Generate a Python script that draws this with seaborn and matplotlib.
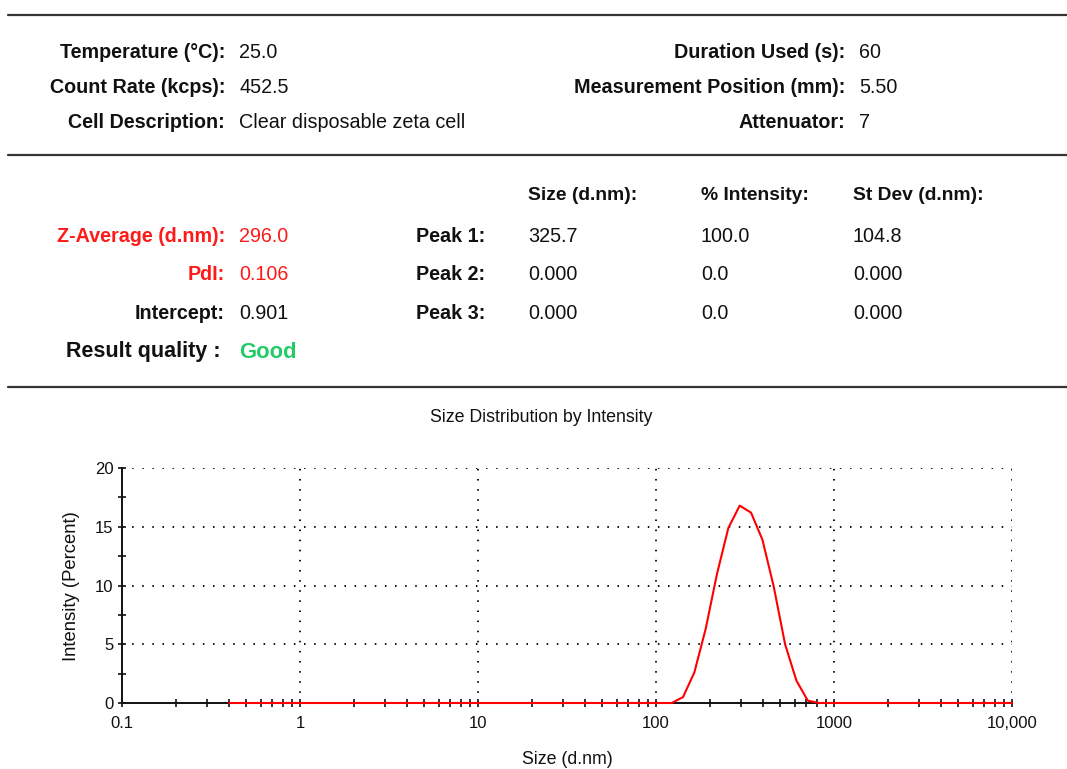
import matplotlib
matplotlib.use("Agg")
import matplotlib.pyplot as plt
import seaborn as sns
import numpy as np
from matplotlib.lines import Line2D
from matplotlib.ticker import FixedLocator, FixedFormatter

# ---- data ----
sizes = [0.4, 122.4, 141.8, 164.2, 190.1, 220.2, 255.0, 295.3, 342.0, 396.1,
         458.7, 531.2, 615.1, 712.4, 825.0, 10000.0]
intensity = [0.0, 0.0, 0.5, 2.6, 6.3, 11.0, 14.9, 16.8, 16.2, 13.9,
             9.9, 5.0, 1.9, 0.2, 0.0, 0.0]
x_ticks = [0.1, 1, 10, 100, 1000, 10000]
x_tick_labels = ["0.1", "1", "10", "100", "1000", "10,000"]
y_ticks = [0, 5, 10, 15, 20]

info_left = [("Temperature (°C):", "25.0"), ("Count Rate (kcps):", "452.5"),
             ("Cell Description:", "Clear disposable zeta cell")]
info_right = [("Duration Used (s):", "60"), ("Measurement Position (mm):", "5.50"),
              ("Attenuator:", "7")]
result_left = [("Z-Average (d.nm):", "296.0", "#ff1a1a"), ("PdI:", "0.106", "#ff1a1a"),
               ("Intercept:", "0.901", "#111111")]
peak_headers = ["Size (d.nm):", "% Intensity:", "St Dev (d.nm):"]
peak_names = ["Peak 1:", "Peak 2:", "Peak 3:"]
peak_size = ["325.7", "0.000", "0.000"]
peak_int = ["100.0", "0.0", "0.0"]
peak_sd = ["104.8", "0.000", "0.000"]

# ---- style ----
sns.set_style("white")
plt.rcParams['font.family'] = ['Liberation Sans', 'DejaVu Sans']

W, H = 1067, 769
fig = plt.figure(figsize=(W / 100, H / 100), dpi=100)

def P(x, y):
    return x / W, 1 - y / H

def txt(x, y, s, ha="left", size=14.2, weight="normal", color="#111111"):
    fig.text(*P(x, y), s, ha=ha, va="center", fontsize=size, fontweight=weight, color=color)

# horizontal rules
for yy in [15, 155, 387]:
    fig.add_artist(Line2D([8 / W, 1.0], [1 - yy / H] * 2, color="#333333", lw=1.6,
                          transform=fig.transFigure))

# header block
for i, (lab, val) in enumerate(info_left):
    y = 53 + i * 34.5
    txt(225, y, lab, ha="right", weight="bold")
    txt(239, y, val)
for i, (lab, val) in enumerate(info_right):
    y = 53 + i * 34.5
    txt(845, y, lab, ha="right", weight="bold")
    txt(859, y, val)

# results block
for x0, h in zip([528, 701, 853], peak_headers):
    txt(x0, 196, h, weight="bold", size=13.9)
for i, (lab, val, col) in enumerate(result_left):
    y = 236 + i * 38.5
    txt(225, y, lab, ha="right", weight="bold", color=col)
    txt(239, y, val, color=col)
    txt(485, y, peak_names[i], ha="right", weight="bold")
    txt(528, y, peak_size[i])
    txt(701, y, peak_int[i])
    txt(853, y, peak_sd[i])
txt(221, 351, "Result quality :", ha="right", size=15.5, weight="bold")
txt(239, 352, "Good", size=15.8, weight="bold", color="#22cc66")

# chart
ax = fig.add_axes([122 / W, 1 - 703 / H, (1012 - 122) / W, (703 - 468) / H])
sns.lineplot(x=sizes, y=intensity, color="#ff0000", lw=1.5, ax=ax, zorder=5,
             clip_on=False)
ax.set_xscale("log")
ax.set_xlim(0.1, 10000)
ax.set_ylim(0, 20)
ax.xaxis.set_major_locator(FixedLocator(x_ticks))
ax.xaxis.set_major_formatter(FixedFormatter(x_tick_labels))
minor = [m * d for d in [0.1, 1, 10, 100, 1000] for m in range(2, 10)]
ax.xaxis.set_minor_locator(FixedLocator(minor))
ax.yaxis.set_major_locator(FixedLocator(y_ticks))
ax.yaxis.set_minor_locator(FixedLocator([2.5, 7.5, 12.5, 17.5]))
ax.tick_params(which="both", direction="inout", length=6, width=1.2, color="#111111",
               labelsize=12, labelcolor="#111111", bottom=True, left=True)
ax.tick_params(axis="x", which="major", pad=6)
ax.tick_params(axis="y", which="major", pad=3)
for s in ["top", "right"]:
    ax.spines[s].set_visible(False)
for s in ["left", "bottom"]:
    ax.spines[s].set_color("#111111")
    ax.spines[s].set_linewidth(1.4)
ax.grid(True, which="major", color="#111111", lw=1.4, linestyle=(0, (0.8, 4.4)))
ax.set_axisbelow(True)
ax.set_xlabel("")
ax.set_ylabel("")

fig.text(*P(541, 417), "Size Distribution by Intensity", ha="center", va="center",
         fontsize=12.8, color="#111111")
fig.text(*P(567, 760), "Size (d.nm)", ha="center", va="center", fontsize=12.8, color="#111111")
fig.text(*P(72, 586), "Intensity (Percent)", ha="center", va="center", rotation=90,
         fontsize=13.3, color="#111111")

fig.savefig("out.png", dpi=100)
